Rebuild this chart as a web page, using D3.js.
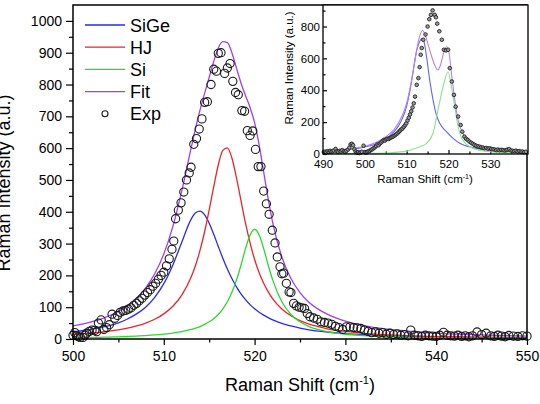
<!DOCTYPE html>
<html>
<head>
<meta charset="utf-8">
<script src="https://cdn.jsdelivr.net/npm/d3@7"></script>
<style>
  html, body { margin: 0; padding: 0; background: #fff; }
  svg { display: block; font-family: "Liberation Sans", Arial, sans-serif; }
</style>
</head>
<body>
<svg id="chart"></svg>
<script>
// main plot: fitted components
const mainX = [500,501,502,503,504,505,506,507,508,509,510,511,512,513,
  513.5,514,514.5,515,515.5,516,516.5,517,517.5,518,518.5,519,519.5,520,520.5,521,521.5,522,
  523,524,525,526,527,528,530,532,535,538,541,544,547,550];
const sigeY = [23,26,30,36,42,51,63,79,100,131,174,233,306,376,
  397,402,390,364,329,291,254,220,190,164,142,124,108,95,84,75,67,60,
  49,41,34,29,25,22,17,14,10,8,6,5,4,3.5];
const hjY = [15,16,19,21,25,29,34,41,50,62,79,103,139,194,
  232,280,338,406,479,547,593,601,569,507,435,364,302,250,208,175,148,126,
  94,73,58,47,39,32,24,18,13,9,7,6,5,4];
const siY = [4,4.4,4.9,5.4,6.1,6.9,7.9,9.2,10.7,12.7,15.3,18.6,23,30,
  34,39,46,54,64,77,95,117,147,185,232,284,327,345,327,284,232,185,
  117,77,54,39,30,23,15,11,7,5,3.6,2.8,2.2,1.8];
const fitY = [41,47,54,62,73,87,105,128,161,205,267,354,468,599,
  663,721,773,823,872,915,935,932,900,852,805,765,728,680,610,525,440,365,
  258,190,146,115,94,78,56,42,30,22,17,14,11,9];

// main plot: experimental points
const expX = [500,500.2,500.4,500.6,500.8,501.1,501.3,501.5,501.8,502.1,502.4,502.6,502.8,503.1,503.4,503.7,
  504,504.3,504.6,504.9,505.2,505.5,505.8,506.1,506.4,506.7,507,507.3,507.6,507.9,508.2,508.5,508.8,
  509.1,509.4,509.7,510,510.3,510.6,510.9,511.1,511.3,511.6,511.9,512.2,512.5,512.8,513,513.3,513.6,
  513.9,514.2,514.5,514.8,515.2,515.5,515.8,516,516.3,516.7,517,517.3,517.6,517.9,518.2,518.6,518.9,
  519.2,519.5,519.8,520.1,520.4,520.7,521,521.3,521.6,521.95,522.25,522.5,522.8,523,523.2,523.5,523.8,
  524,524.3,524.6,524.9,525.2,525.5,525.8,526.1,526.5,526.9,527.3,527.7,528.1,528.5,528.9,529.3,529.7,
  530.1,530.5,530.9,531.3,531.7,532.1,532.5,532.9,533.3,533.7,534.1,534.5,534.9,535.3,535.7,536.1,536.5,
  536.9,537.2,537.6,538,538.4,538.8,539.2,539.6,540,540.4,540.8,541.2,541.6,542,542.4,542.8,543.2,543.6,
  544,544.5,545,545.5,546,546.4,546.8,547.2,547.6,548,548.5,549,549.5,550];
const expY = [12,20,10,7,5,5,12,18,24,28,27,23,50,60,30,36,
  45,78,65,74,84,88,90,94,98,106,112,120,128,138,146,155,166,
  175,188,200,210,230,252,282,308,378,405,428,462,500,522,540,612,630,
  660,692,744,746,800,848,842,898,900,835,852,866,810,775,768,718,716,
  655,640,654,596,542,542,465,425,392,342,302,258,227,205,207,175,148,
  146,112,104,100,98,96,80,70,66,62,54,52,50,46,40,36,30,
  38,38,36,35,33,28,24,20,22,18,20,15,18,14,16,12,14,
  10,28,12,10,8,12,10,9,8,12,21,12,10,9,12,8,10,7,
  10,22,14,18,10,8,12,9,7,11,9,8,10,9];

// inset curves
const inSigeX = [490,493,496,499,501,503,505,507,508,509,510,510.8,511.6,512.4,513,513.7,514.2,514.75,515.5,516.3,517.1,517.9,519.5,521.1,522.7,525.8,530,534,539];
const inSigeY = [15,20,28,38,50,66,95,140,175,225,300,400,527,652,700,725,700,610,465,340,245,193,140,98,67,40,25,18,14];
const inFitX = [490,495,500,505,507,509,510,511,512,513,513.8,514.5,515.5,516.7,517.5,518.1,518.7,519.5,520.1,520.7,521.5,522.3,523.4,525.8,529,532.9,539];
const inFitY = [20,30,48,108,155,245,320,440,590,730,775,740,652,558,527,560,620,673,640,506,340,213,130,67,40,25,16];
const inSiX = [490,500,505,508,510,512,513.2,514.75,516.3,517.5,518.7,519.9,520.7,521.5,522.3,523.4,525.8,528,532,539];
const inSiY = [2,4,6,12,18,35,46,67,130,277,422,516,422,297,171,88,36,20,10,5];

// inset experimental points
const inExpX = [490.2,490.5,490.8,491.1,491.4,491.7,492,492.3,492.6,493,493.3,493.6,494,494.3,494.6,495,495.3,495.6,
  496,496.3,496.6,496.9,497.2,497.5,497.8,498.1,498.4,498.7,499,499.3,499.7,500,500.3,500.6,500.9,501.2,501.5,
  501.8,502.1,502.4,502.7,503,503.3,503.6,503.9,504.2,504.5,504.8,505.1,505.4,505.7,506,506.3,506.6,506.9,
  507.2,507.5,507.8,508.1,508.4,508.7,509,509.3,509.6,509.9,510.2,510.5,510.8,511.1,511.4,511.7,512,512.4,
  512.8,513.1,513.35,513.6,513.95,514.5,515,515.4,515.8,516.2,516.7,517,517.3,517.8,518.4,518.9,519.4,519.9,
  520.3,520.8,521.3,521.7,522.3,522.9,523.3,523.8,524.2,524.6,525,525.4,525.8,526.2,526.6,527,527.4,527.8,
  528.2,528.6,529,529.4,529.8,530.2,530.6,531,531.4,531.8,532.2,532.6,533,533.4,533.8,534.1,534.5,534.9,
  535.3,535.7,536.1,536.5,536.9,537.3,537.7,538.1,538.5];
const inExpY = [12,15,10,18,12,20,14,18,22,32,18,14,20,16,24,18,14,20,
  28,40,60,64,55,30,15,8,12,6,10,14,52,12,8,14,18,20,26,
  30,36,42,50,60,55,66,72,80,88,84,92,96,94,100,104,108,112,
  118,124,130,138,146,154,160,170,180,192,210,228,248,268,292,318,360,434,
  476,545,623,665,717,750,800,846,873,901,873,858,818,770,717,654,650,654,
  539,455,371,297,235,182,140,109,96,88,78,71,64,57,52,48,46,42,
  40,36,38,34,36,32,30,28,25,28,24,26,25,22,24,28,30,22,
  20,18,21,16,18,14,15,12,14];

// ticks and legend
const xTicks = [500,510,520,530,540,550];
const xMinor = [505,515,525,535,545];
const yTicks = [0,100,200,300,400,500,600,700,800,900,1000];
const yMinor = [50,150,250,350,450,550,650,750,850,950];
const inXTicks = [490,500,510,520,530];
const inXMinor = [495,505,515,525,535];
const inYTicks = [0,200,400,600,800];
const inYMinor = [100,300,500,700,900];
const legendLabels = ["SiGe","HJ","Si","Fit","Exp"];
const mainColors = ["#2a2ae6","#e6262a","#2ed62e","#a040e8"];
const insetColors = { sige: "#6464f0", fit: "#b884ec", si: "#8ee08e" };

const W = 540, H = 404;
const svg = d3.select("#chart").attr("width", W).attr("height", H);

const x = d3.scaleLinear().domain([500, 550]).range([73, 527]);
const y = d3.scaleLinear().domain([0, 1050]).range([339, 5]);

function styleAxis(g, size) {
  g.select(".domain").remove();
  g.selectAll("line").attr("stroke", "#000").attr("stroke-width", 1.2);
  g.selectAll("text").attr("fill", "#000").style("font-size", size + "px")
    .style("font-family", "Liberation Sans, Arial, sans-serif");
}

// minor + major ticks, main plot
svg.append("g").attr("transform", "translate(0,339)")
  .call(d3.axisBottom(x).tickValues(xMinor).tickSize(3.5).tickFormat(""))
  .call(g => styleAxis(g, 14));
svg.append("g").attr("transform", "translate(0,339)")
  .call(d3.axisBottom(x).tickValues(xTicks).tickSize(6).tickPadding(6).tickFormat(d3.format("d")))
  .call(g => styleAxis(g, 14));
svg.append("g").attr("transform", "translate(73,0)")
  .call(d3.axisLeft(y).tickValues(yMinor).tickSize(4).tickFormat(""))
  .call(g => styleAxis(g, 14));
svg.append("g").attr("transform", "translate(73,0)")
  .call(d3.axisLeft(y).tickValues(yTicks).tickSize(7).tickPadding(4).tickFormat(d3.format("d")))
  .call(g => styleAxis(g, 14));

// curves
const mainSeries = [sigeY, hjY, siY, fitY];
const line = d3.line().curve(d3.curveMonotoneX);
mainSeries.forEach((ys, i) => {
  svg.append("path")
    .attr("d", line(mainX.map((v, j) => [x(v), y(ys[j])])))
    .attr("fill", "none")
    .attr("stroke", mainColors[i])
    .attr("stroke-width", 1.3);
});

svg.append("g").selectAll("circle")
  .data(expX.map((v, i) => [v, expY[i]]))
  .enter().append("circle")
  .attr("cx", d => x(d[0]))
  .attr("cy", d => y(d[1]))
  .attr("r", 4.1)
  .attr("fill", "none")
  .attr("stroke", "#1a1a1a")
  .attr("stroke-width", 1.1);

// frame
svg.append("rect")
  .attr("x", 73).attr("y", 5).attr("width", 527 - 73).attr("height", 339 - 5)
  .attr("fill", "none").attr("stroke", "#000").attr("stroke-width", 1.5);

// legend
const legend = svg.append("g").attr("transform", "translate(85,25)");
legendLabels.forEach((lab, i) => {
  const yy = i * 22.2;
  if (i < 4) {
    legend.append("line").attr("x1", 0).attr("x2", 40).attr("y1", yy).attr("y2", yy)
      .attr("stroke", mainColors[i]).attr("stroke-width", 1.3);
  } else {
    legend.append("circle").attr("cx", 20).attr("cy", yy).attr("r", 3)
      .attr("fill", "none").attr("stroke", "#1a1a1a").attr("stroke-width", 1.1);
  }
  legend.append("text").attr("x", 45).attr("y", yy + 6.5)
    .style("font-size", "18px").text(lab);
});

// axis titles
const xt = svg.append("text").attr("x", 300).attr("y", 391).attr("text-anchor", "middle")
  .style("font-size", "18px");
xt.append("tspan").text("Raman Shift (cm");
xt.append("tspan").attr("dy", -7).style("font-size", "11px").text("-1");
xt.append("tspan").attr("dy", 7).text(")");

svg.append("text")
  .attr("transform", "translate(10,183) rotate(-90)")
  .attr("text-anchor", "middle")
  .style("font-size", "18px")
  .text("Raman Intensity (a.u.)");

// ---------- inset ----------
const ix = d3.scaleLinear().domain([490, 539]).range([323, 528]);
const iy = d3.scaleLinear().domain([0, 935]).range([154, 5]);

svg.append("rect")
  .attr("x", 323).attr("y", 5).attr("width", 528 - 323).attr("height", 154 - 5)
  .attr("fill", "#fff");

const inset = svg.append("g");
inset.append("g").attr("transform", "translate(0,154)")
  .call(d3.axisBottom(ix).tickValues(inXMinor).tickSize(-2.5).tickFormat(""))
  .call(g => styleAxis(g, 11.5));
inset.append("g").attr("transform", "translate(0,154)")
  .call(d3.axisBottom(ix).tickValues(inXTicks).tickSize(-4).tickPadding(6).tickFormat(d3.format("d")))
  .call(g => styleAxis(g, 11.5));
inset.append("g").attr("transform", "translate(323,0)")
  .call(d3.axisLeft(iy).tickValues(inYMinor).tickSize(-2.5).tickFormat(""))
  .call(g => styleAxis(g, 11.5));
inset.append("g").attr("transform", "translate(323,0)")
  .call(d3.axisLeft(iy).tickValues(inYTicks).tickSize(-4).tickPadding(3).tickFormat(d3.format("d")))
  .call(g => styleAxis(g, 11.5));

const insetCurves = [
  [inSigeX, inSigeY, insetColors.sige],
  [inSiX, inSiY, insetColors.si],
  [inFitX, inFitY, insetColors.fit]
];
insetCurves.forEach(c => {
  inset.append("path")
    .attr("d", line(c[0].map((v, j) => [ix(v), iy(c[1][j])])))
    .attr("fill", "none")
    .attr("stroke", c[2])
    .attr("stroke-width", 1.1);
});

inset.append("g").selectAll("circle")
  .data(inExpX.map((v, i) => [v, inExpY[i]]))
  .enter().append("circle")
  .attr("cx", d => ix(d[0]))
  .attr("cy", d => iy(d[1]))
  .attr("r", 1.8)
  .attr("fill", "#999")
  .attr("stroke", "#222")
  .attr("stroke-width", 0.9);

inset.append("rect")
  .attr("x", 323).attr("y", 5).attr("width", 528 - 323).attr("height", 154 - 5)
  .attr("fill", "none").attr("stroke", "#000").attr("stroke-width", 1.3);

const ixt = inset.append("text").attr("x", 425).attr("y", 183).attr("text-anchor", "middle")
  .style("font-size", "11.5px");
ixt.append("tspan").text("Raman Shift (cm");
ixt.append("tspan").attr("dy", -4.5).style("font-size", "7px").text("-1");
ixt.append("tspan").attr("dy", 4.5).text(")");

inset.append("text")
  .attr("transform", "translate(293,68) rotate(-90)")
  .attr("text-anchor", "middle")
  .style("font-size", "11.5px")
  .text("Raman Intensity (a.u.)");
</script>
</body>
</html>
